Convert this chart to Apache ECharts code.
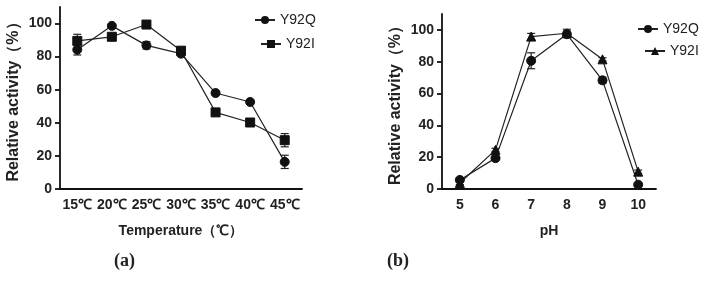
<!DOCTYPE html>
<html>
<head>
<meta charset="utf-8">
<script src="https://cdn.jsdelivr.net/npm/echarts@6/dist/echarts.min.js"></script>
<style>
  html, body { margin: 0; padding: 0; background: #fff; }
  #main { width: 703px; height: 286px; }
</style>
</head>
<body>
<div id="main"></div>
<script>
var tempCats = ['15℃', '20℃', '25℃', '30℃', '35℃', '40℃', '45℃'];
var tempQ = [84.2, 98.6, 86.8, 81.8, 58, 52.6, 16.4];
var tempQErr = [3.2, 1, 2.2, 1, 1, 1, 4];
var tempI = [89.5, 92, 99.4, 83.6, 46.3, 40.2, 29.5];
var tempIErr = [4, 1, 1, 1.5, 1, 1, 4];

var phCats = ['5', '6', '7', '8', '9', '10'];
var phQ = [5.7, 19.4, 80.6, 97.3, 68.3, 2.7];
var phQErr = [1, 1, 5, 2, 2, 1];
var phI = [3.8, 24.6, 95.8, 97.9, 81.5, 10.9];
var phIErr = [1, 1, 2, 2.5, 1, 1];

var yTicks = [0, 20, 40, 60, 80, 100];

var dom = document.getElementById('main');
var myChart = echarts.init(dom);

function errData(vals, errs) {
    return vals.map(function (v, i) { return [i, v - errs[i], v + errs[i]]; });
}

function errSeries(vals, errs, axis) {
    return {
        type: 'custom',
        xAxisIndex: axis,
        yAxisIndex: axis,
        silent: true,
        z: 1,
        data: errData(vals, errs),
        renderItem: function (params, api) {
            var lo = api.coord([api.value(0), api.value(1)]);
            var hi = api.coord([api.value(0), api.value(2)]);
            var w = 4;
            var st = { stroke: '#222', lineWidth: 1.2 };
            return {
                type: 'group',
                children: [
                    { type: 'line', shape: { x1: lo[0], y1: lo[1], x2: hi[0], y2: hi[1] }, style: st },
                    { type: 'line', shape: { x1: hi[0] - w, y1: hi[1], x2: hi[0] + w, y2: hi[1] }, style: st },
                    { type: 'line', shape: { x1: lo[0] - w, y1: lo[1], x2: lo[0] + w, y2: lo[1] }, style: st }
                ]
            };
        }
    };
}

function lineSeries(name, vals, symbol, size, axis) {
    return {
        name: name,
        type: 'line',
        xAxisIndex: axis,
        yAxisIndex: axis,
        data: vals,
        symbol: symbol,
        symbolSize: size,
        showAllSymbol: true,
        z: 3,
        lineStyle: { color: '#222', width: 1.2 },
        itemStyle: { color: '#111', borderColor: '#111' }
    };
}

var font = '"Liberation Sans", Arial, sans-serif';
var narrow = '"Liberation Sans Narrow", "Liberation Sans", Arial, sans-serif';
var axisLine = { lineStyle: { color: '#111', width: 1.8 } };

function xAxis(cats, grid, name) {
    return {
        type: 'category',
        gridIndex: grid,
        data: cats,
        boundaryGap: true,
        axisLine: axisLine,
        axisTick: { alignWithLabel: true, length: 5, lineStyle: { color: '#111', width: 1.8 } },
        axisLabel: { color: '#222', fontWeight: 'bold', fontSize: 14, fontFamily: font, margin: 9, interval: 0 },
        name: name,
        nameLocation: 'middle',
        nameGap: 35,
        nameTextStyle: { color: '#222', fontWeight: 'bold', fontSize: 14, fontFamily: narrow }
    };
}

function yAxis(grid) {
    return {
        type: 'value',
        gridIndex: grid,
        min: 0,
        max: 110,
        interval: 10,
        splitLine: { show: false },
        axisLine: { show: true, lineStyle: { color: '#111', width: 1.8 } },
        axisTick: { show: true, length: 5, customValues: yTicks, lineStyle: { color: '#111', width: 1.8 } },
        axisLabel: { customValues: yTicks, color: '#222', fontWeight: 'bold', fontSize: 14, fontFamily: font, margin: 8 },
        name: 'Relative activity（%）',
        nameLocation: 'middle',
        nameRotate: 90,
        nameGap: 38,
        nameTextStyle: { color: '#222', fontWeight: 'bold', fontSize: 16, fontFamily: font }
    };
}

function legend(name, left, top) {
    return {
        data: [name],
        left: left,
        top: top,
        itemWidth: 20,
        itemHeight: 10,
        padding: 0,
        formatter: function (n) { return n.split('-')[0]; },
        textStyle: { color: '#222', fontSize: 14, fontFamily: font }
    };
}

option = {
    backgroundColor: '#fff',
    animation: false,
    grid: [
        { left: 60, right: 401, top: 7, bottom: 97 },
        { left: 442, right: 47, top: 14, bottom: 97 }
    ],
    legend: [
        legend('Y92Q-a', 254, 13),
        legend('Y92I-a', 260, 37),
        legend('Y92Q-b', 637, 22),
        legend('Y92I-b', 644, 44)
    ],
    xAxis: [xAxis(tempCats, 0, 'Temperature（℃）'), xAxis(phCats, 1, 'pH')],
    yAxis: [yAxis(0), yAxis(1)],
    series: [
        errSeries(tempQ, tempQErr, 0),
        errSeries(tempI, tempIErr, 0),
        lineSeries('Y92Q-a', tempQ, 'circle', 9, 0),
        lineSeries('Y92I-a', tempI, 'rect', 9, 0),
        errSeries(phQ, phQErr, 1),
        errSeries(phI, phIErr, 1),
        lineSeries('Y92Q-b', phQ, 'circle', 9, 1),
        lineSeries('Y92I-b', phI, 'triangle', 9, 1)
    ],
    graphic: [
        { type: 'text', left: 114, top: 252, style: { text: '(a)', font: 'bold 18px "Liberation Serif", serif', fill: '#222' } },
        { type: 'text', left: 387, top: 252, style: { text: '(b)', font: 'bold 18px "Liberation Serif", serif', fill: '#222' } }
    ]
};

if (option && typeof option === "object") {
    myChart.setOption(option, true);
}
</script>
</body>
</html>
